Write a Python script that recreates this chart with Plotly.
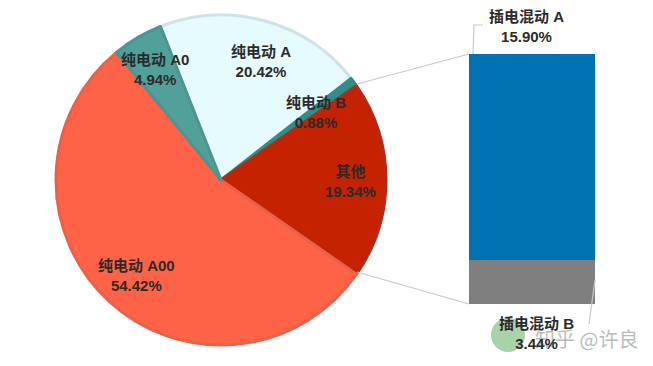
import plotly.graph_objects as go

W, H = 653, 366

pie_labels = ["纯电动 A", "纯电动 B", "其他", "纯电动 A00", "纯电动 A0"]
pie_values = [20.42, 0.88, 19.34, 54.42, 4.94]
pie_colors = ["#E5FBFD", "#2F8F88", "#C42200", "#FF6347", "#52A09A"]
pie_edges = ["#CFE3E6", "#2F8F88", "#B52A12", "#E8614A", "#4C9590"]

bar_labels = ["插电混动 B", "插电混动 A"]
bar_values = [3.44, 15.90]
bar_colors = ["#7F7F7F", "#0072B2"]

pie_label_px = [(261, 62), (316, 112), (350, 181), (136, 275), (155, 69)]
bar_label_px = [(536, 333), (526, 27)]

TEXT = "#2B2B2B"
FONT = "Liberation Sans, Noto Sans CJK SC, sans-serif"


def px(x):
    return x / W


def py(y):
    return 1 - y / H


fig = go.Figure()
fig.add_trace(go.Pie(
    labels=pie_labels, values=pie_values, sort=False, direction="clockwise",
    rotation=-21.5, textinfo="none", hoverinfo="label+percent", showlegend=False,
    marker=dict(colors=pie_colors, line=dict(color=pie_edges, width=3)),
    domain=dict(x=[px(56), px(386)], y=[py(345), py(15)]),
))
for name, val, color in zip(bar_labels, bar_values, bar_colors):
    fig.add_trace(go.Bar(
        x=["插电混动"], y=[val], name=name, width=1, showlegend=False,
        marker=dict(color=color, line=dict(width=0)),
    ))

annotations = []
annotations.append(dict(
    x=px(586), y=py(338), xref="paper", yref="paper", showarrow=False,
    xanchor="center", yanchor="middle",
    text="知乎 @许良", font=dict(family="Noto Sans CJK SC", size=20, color="rgba(165,165,165,0.75)"),
))
for name, val, (x, y) in list(zip(pie_labels, pie_values, pie_label_px)) + list(zip(bar_labels, bar_values, bar_label_px)):
    annotations.append(dict(
        x=px(x), y=py(y), xref="paper", yref="paper", showarrow=False,
        xanchor="center", yanchor="middle",
        align="center", text=f"<b>{name}<br>{val:.2f}%</b>",
        font=dict(family=FONT, size=15, color=TEXT),
    ))

line = dict(color="#C9C9C9", width=1.2)
shapes = [
    dict(type="line", xref="paper", yref="paper", x0=px(357), y0=py(84), x1=px(469), y1=py(54), line=line),
    dict(type="line", xref="paper", yref="paper", x0=px(357), y0=py(272), x1=px(469), y1=py(304), line=line),
    dict(type="path", xref="paper", yref="paper", line=line,
         path=f"M {px(473)} {py(54)} L {px(474)} {py(25)} L {px(483)} {py(25)}"),
    dict(type="path", xref="paper", yref="paper", line=line,
         path=f"M {px(595)} {py(280)} L {px(589)} {py(324)}"),
    dict(type="circle", xref="paper", yref="paper", x0=px(491), x1=px(525), y0=py(352), y1=py(318),
         fillcolor="rgba(110,180,110,0.6)", line=dict(width=0), layer="below"),
]

fig.update_layout(
    width=W, height=H, autosize=False, barmode="stack", bargap=0,
    margin=dict(l=0, r=0, t=0, b=0), paper_bgcolor="white", plot_bgcolor="rgba(0,0,0,0)",
    xaxis=dict(domain=[px(469), px(595)], visible=False),
    yaxis=dict(domain=[py(304), py(54)], visible=False, range=[0, sum(bar_values)]),
    annotations=annotations, shapes=shapes,
)
fig.write_html("out.html", config=dict(displayModeBar=False),
               post_script="document.body.style.margin='0';document.body.style.overflow='hidden';")
